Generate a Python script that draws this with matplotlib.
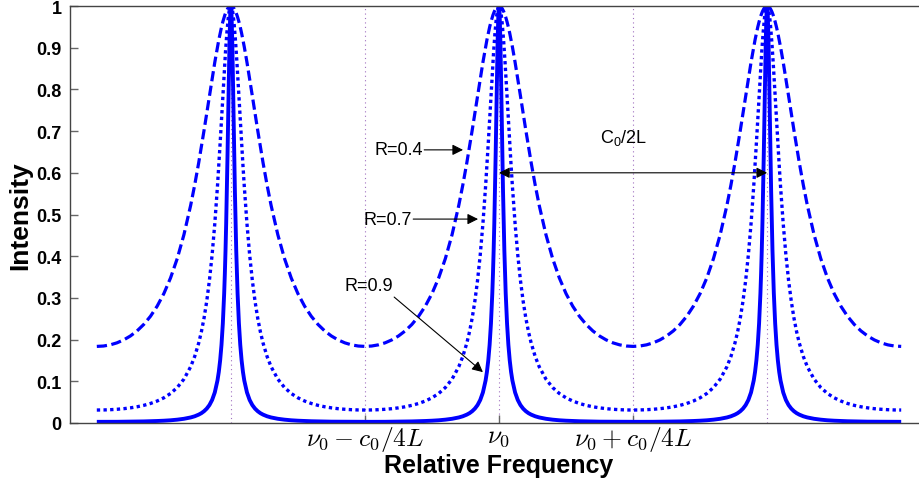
import matplotlib
matplotlib.use("Agg")
import matplotlib.pyplot as plt
import numpy as np

plt.rcParams['font.family'] = ['Liberation Sans', 'DejaVu Sans']
plt.rcParams['mathtext.fontset'] = 'custom'
plt.rcParams['mathtext.rm'] = 'Liberation Sans'
plt.rcParams['mathtext.it'] = 'Liberation Sans:italic'

# ---- data ----
# offsets from each peak, in units of the peak spacing c0/2L
offsets = [0.0, 0.00125, 0.0025, 0.00375, 0.005, 0.00625, 0.0075, 0.01, 0.0125, 0.015,
           0.0175, 0.02, 0.0225, 0.025, 0.03, 0.035, 0.04, 0.045, 0.05, 0.06,
           0.07, 0.08, 0.09, 0.1, 0.11, 0.12, 0.135, 0.15, 0.175, 0.2,
           0.225, 0.25, 0.275, 0.3, 0.325, 0.35, 0.375, 0.4, 0.425, 0.45,
           0.475, 0.5]
# intensity half-profiles (peak -> midpoint) for each reflectivity
I_R04 = [1.0, 0.9999, 0.9997, 0.9994, 0.9989, 0.9983, 0.9975, 0.9956, 0.9932, 0.9902,
         0.9868, 0.9828, 0.9783, 0.9734, 0.9621, 0.9492, 0.9347, 0.9189, 0.9019, 0.8650,
         0.8254, 0.7844, 0.7430, 0.7020, 0.6623, 0.6241, 0.5706, 0.5219, 0.4518, 0.3944,
         0.3479, 0.3103, 0.2801, 0.2558, 0.2363, 0.2208, 0.2086, 0.1992, 0.1922, 0.1874,
         0.1846, 0.1837]
I_R07 = [1.0, 0.9995, 0.9981, 0.9957, 0.9924, 0.9881, 0.9830, 0.9702, 0.9542, 0.9354,
         0.9141, 0.8907, 0.8657, 0.8393, 0.7840, 0.7275, 0.6717, 0.6182, 0.5677, 0.4779,
         0.4032, 0.3420, 0.2923, 0.2518, 0.2188, 0.1917, 0.1595, 0.1349, 0.1053, 0.0851,
         0.0708, 0.0604, 0.0527, 0.0468, 0.0423, 0.0389, 0.0363, 0.0343, 0.0329, 0.0319,
         0.0313, 0.0311]
I_R09 = [1.0, 0.9945, 0.9783, 0.9524, 0.9184, 0.8781, 0.8335, 0.7379, 0.6432, 0.5559,
         0.4791, 0.4133, 0.3577, 0.3109, 0.2388, 0.1874, 0.1503, 0.1227, 0.1019, 0.0733,
         0.0552, 0.0430, 0.0345, 0.0283, 0.0236, 0.0201, 0.0161, 0.0133, 0.0101, 0.0080,
         0.0065, 0.0055, 0.0048, 0.0042, 0.0038, 0.0035, 0.0032, 0.0031, 0.0029, 0.0028,
         0.0028, 0.0028]
peaks = [-1.0, 0.0, 1.0]
labels_R = ['R=0.4', 'R=0.7', 'R=0.9']
xtick_pos = [-0.5, 0.0, 0.5]
xtick_labels = [r'$\nu_0 - c_0/4L$', r'$\nu_0$', r'$\nu_0 + c_0/4L$']
ytick_pos = [0, 0.1, 0.2, 0.3, 0.4, 0.5, 0.6, 0.7, 0.8, 0.9, 1.0]
ytick_labels = ['0', '0.1', '0.2', '0.3', '0.4', '0.5', '0.6', '0.7', '0.8', '0.9', '1']


def full_curve(prof):
    off = np.asarray(offsets)
    val = np.asarray(prof)
    xs, ys = [], []
    for p in peaks:
        xs.append(p - off[::-1]); ys.append(val[::-1])
        xs.append(p + off[1:]); ys.append(val[1:])
    return np.concatenate(xs), np.concatenate(ys)


fig = plt.figure(figsize=(9.19, 4.81), dpi=100)
ax = fig.add_axes([70/919, 57/481, 858/919, 417/481])

blue = '#0000ff'
x, y = full_curve(I_R04)
ax.plot(x, y, color=blue, lw=2.3, dashes=(3.2, 1.4), dash_capstyle='butt')
x, y = full_curve(I_R07)
ax.plot(x, y, color=blue, lw=2.4, dashes=(1.0, 1.0), dash_capstyle='butt')
x, y = full_curve(I_R09)
ax.plot(x, y, color=blue, lw=2.8, solid_capstyle='butt')

ax.set_xlim(-1.6, 1.6)
ax.set_ylim(0, 1)

ax.set_xticks(xtick_pos)
ax.set_xticklabels(xtick_labels, fontsize=18.5)
for t in ax.get_xticklabels():
    t.set_math_fontfamily('cm')
ax.set_xticks(peaks, minor=True)
ax.set_yticks(ytick_pos)
ax.set_yticklabels(ytick_labels, fontsize=13, fontweight='bold')

ax.tick_params(axis='both', which='major', direction='in', length=6, width=1,
               color='#666666')
ax.tick_params(axis='x', which='major', pad=1)
ax.tick_params(axis='y', which='major', pad=6)
ax.tick_params(axis='x', which='minor', length=0)
ax.xaxis.grid(True, which='both', linestyle=(0, (1, 3)), color='#a070c0', lw=0.8)

for s in ['left', 'bottom', 'top', 'right']:
    ax.spines[s].set_color('#444444')
    ax.spines[s].set_linewidth(1.0)

ax.set_xlabel('Relative Frequency', fontsize=18, fontweight='bold', labelpad=0)
ax.set_ylabel('Intensity', fontsize=19, fontweight='bold', labelpad=3)

arrowkw = dict(arrowstyle='-|>', color='black', lw=0.8, mutation_scale=16,
               shrinkA=0, shrinkB=0)
ax.annotate('', xy=(-0.134, 0.655), xytext=(-0.279, 0.655), arrowprops=arrowkw)
ax.text(-0.466, 0.655, labels_R[0], fontsize=13, va='center', ha='left')
ax.annotate('', xy=(-0.078, 0.489), xytext=(-0.320, 0.489), arrowprops=arrowkw)
ax.text(-0.505, 0.489, labels_R[1], fontsize=13, va='center', ha='left')
ax.annotate('', xy=(-0.060, 0.122), xytext=(-0.391, 0.302), arrowprops=arrowkw)
ax.text(-0.575, 0.329, labels_R[2], fontsize=13, va='center', ha='left')

arrow2 = dict(arrowstyle='<|-|>', color='black', lw=0.8, mutation_scale=16,
              shrinkA=0, shrinkB=0)
ax.annotate('', xy=(peaks[2], 0.6), xytext=(peaks[1], 0.6), arrowprops=arrow2)
ax.text(0.376, 0.686, r'C$_0$/2L', fontsize=13, va='center', ha='left')

fig.savefig('out.png', dpi=100)
